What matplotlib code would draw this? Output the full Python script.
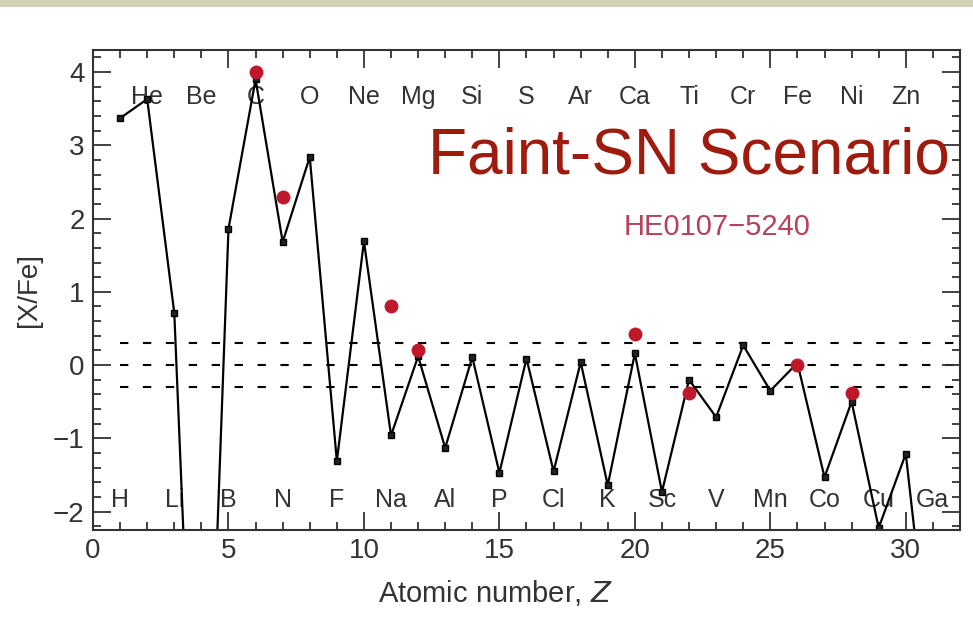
import matplotlib.pyplot as plt
from matplotlib.patches import Rectangle
from matplotlib.ticker import MultipleLocator

# model abundance pattern (faint SN) vs. observed HE0107-5240
z_model = list(range(1, 32))
xfe_model = [3.37, 3.63, 0.71, -8.2, 1.86, 3.9, 1.68, 2.84, -1.31, 1.69,
             -0.96, 0.12, -1.13, 0.11, -1.47, 0.09, -1.45, 0.04, -1.64, 0.16,
             -1.73, -0.2, -0.71, 0.27, -0.35, 0.03, -1.53, -0.5, -2.22, -1.21,
             -4.5]

z_obs = [6, 7, 11, 12, 20, 22, 26, 28]
xfe_obs = [4.0, 2.29, 0.8, 0.2, 0.42, -0.38, 0.0, -0.38]

elements = ['H', 'He', 'Li', 'Be', 'B', 'C', 'N', 'O', 'F', 'Ne', 'Na', 'Mg',
            'Al', 'Si', 'P', 'S', 'Cl', 'Ar', 'K', 'Ca', 'Sc', 'Ti', 'V', 'Cr',
            'Mn', 'Fe', 'Co', 'Ni', 'Cu', 'Zn', 'Ga']

ref_levels = [0.3, 0.0, -0.3]

plt.rcParams['font.family'] = ['Liberation Sans', 'DejaVu Sans']

fig = plt.figure(figsize=(9.73, 6.23), dpi=100)
ax = fig.add_axes([0.0956, 0.1493, 0.891, 0.7704])

# khaki strip along the top edge
fig.patches.append(Rectangle((0, 0.988), 1, 0.012, transform=fig.transFigure,
                             facecolor='#d3d1b3', edgecolor='none'))

for lv in ref_levels:
    ax.plot([1, 32], [lv, lv], color='black', lw=1.5, ls=(0, (4, 7)), zorder=1)

ax.plot(z_model, xfe_model, color='black', lw=1.6, marker='s', ms=4.5,
        mfc='#222222', mec='black', zorder=2)
ax.plot(z_obs, xfe_obs, ls='none', marker='o', ms=10, color='#c0182b',
        mec='none', zorder=3)

for i, el in enumerate(elements):
    z = i + 1
    y = 3.66 if z % 2 == 0 else -1.84
    ax.text(z, y, el, ha='center', va='center', fontsize=18, color='#333333',
            zorder=0)

ax.text(12.35, 2.62, 'Faint-SN Scenario', fontsize=46, color='#9e1b0e',
        ha='left', va='baseline', clip_on=False, zorder=5)
ax.text(23.05, 1.88, 'HE0107\u22125240', fontsize=21, color='#b8405a',
        ha='center', va='center')

ax.set_xlim(0, 32)
ax.set_ylim(-2.25, 4.3)
ax.xaxis.set_major_locator(MultipleLocator(5))
ax.xaxis.set_minor_locator(MultipleLocator(1))
ax.yaxis.set_major_locator(MultipleLocator(1))
ax.yaxis.set_minor_locator(MultipleLocator(0.2))
ax.tick_params(which='both', direction='in', top=True, right=True,
               colors='#333333', labelsize=20, width=1.3)
ax.tick_params(which='major', length=13, pad=6)
ax.tick_params(which='minor', length=6)
for sp in ax.spines.values():
    sp.set_linewidth(1.5)
    sp.set_color('#333333')

ax.set_xlabel('Atomic number, $Z$', fontsize=21, color='#333333', labelpad=10)
ax.xaxis.set_label_coords(0.464, -0.1)
ax.set_ylabel('[X/Fe]', fontsize=20, color='#333333', labelpad=8)

fig.savefig('out.png', dpi=100)
